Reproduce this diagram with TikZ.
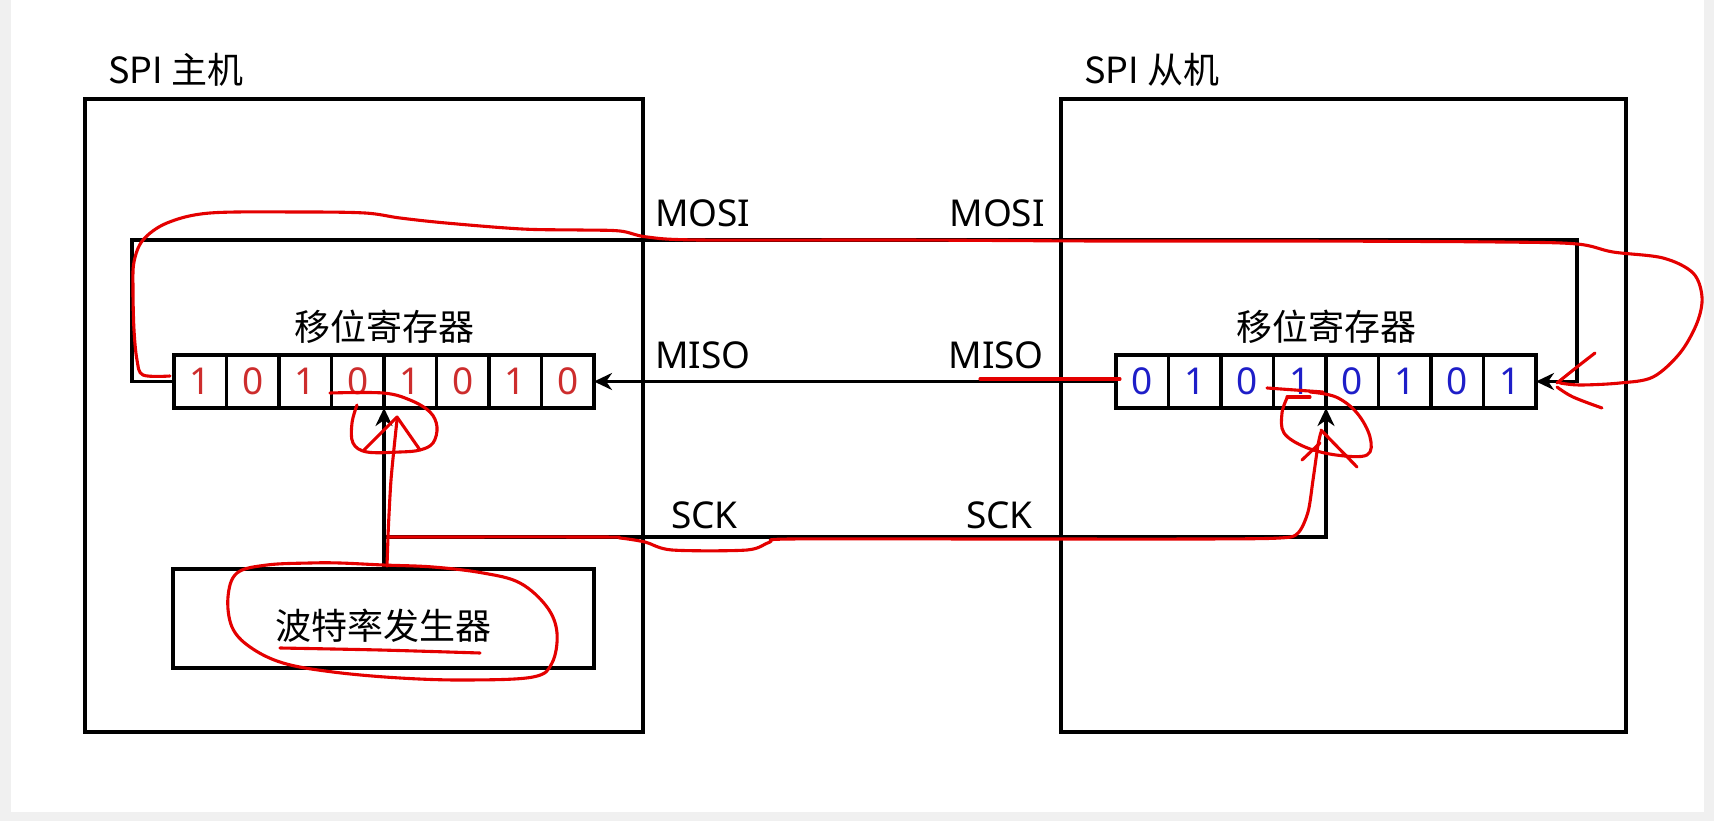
\documentclass[tikz,border=0pt]{standalone}
\usepackage{fontspec}
\setmainfont{Noto Sans}
\newfontfamily\cjk{Noto Sans CJK SC}
\usetikzlibrary{arrows.meta}
\definecolor{penred}{RGB}{228,0,0}
\definecolor{digred}{RGB}{205,45,45}
\definecolor{digblue}{RGB}{30,30,200}
\definecolor{bggray}{RGB}{240,240,240}
\begin{document}
\begin{tikzpicture}[x=1pt,y=-1pt,
  wire/.style={line width=3.4pt},
  frame/.style={draw, line width=3.6pt, inner sep=0pt, outer sep=0pt, anchor=north west},
  cell/.style={draw, line width=3.4pt, minimum width=52.5pt, minimum height=53pt, inner sep=0pt, outer sep=0pt, font=\fontsize{37}{37}\selectfont},
  mcell/.style={cell, text=digred},
  scell/.style={cell, text=digblue},
  sig/.style={font=\fontsize{37}{37}\selectfont, inner sep=0pt},
  cjklbl/.style={font=\cjk\fontsize{36}{36}\selectfont, inner sep=0pt},
  pen/.style={draw=penred, line width=3.1pt, line cap=round, line join=round},
  tip/.style={-{Stealth[length=18pt,width=17pt]}}
]
\useasboundingbox (0,0) rectangle (1714,821);
\fill[bggray] (0,0) rectangle (1714,821);
\fill[white] (11,0) rectangle (1704,812);

% outer boxes
\node[frame, minimum width=558pt, minimum height=633pt] (master) at (85,99) {};
\node[frame, minimum width=565pt, minimum height=633pt] (slave) at (1061,99) {};
\node[cjklbl, anchor=base west] (mT) at (108,84) {SPI 主机};
\node[cjklbl, anchor=base west] (sT) at (1084,84) {SPI 从机};

% shift registers
\foreach \b [count=\i] in {1,0,1,0,1,0,1,0}
  \node[mcell] (m\i) at ({200.25+52.5*(\i-1)},381.5) {\b};
\foreach \b [count=\i] in {0,1,0,1,0,1,0,1}
  \node[scell] (s\i) at ({1142.25+52.5*(\i-1)},381.5) {\b};
\node[cjklbl, anchor=base] (mRegT) at (384,340) {移位寄存器};
\node[cjklbl, anchor=base] (sRegT) at (1326,340) {移位寄存器};

% baud rate generator
\node[frame, minimum width=421pt, minimum height=99pt] (baud) at (173,569) {};
\node[cjklbl, anchor=base] (baudT) at (383.5,639) {波特率发生器};

% connectors
\coordinate (mosiL) at (132,240);
\coordinate (mosiR) at (1577,240);
\draw[wire, tip] (m1.west) -| (mosiL) -- (mosiR) |- (s8.east);
\draw[wire, tip] (s1.west) -- (m8.east);
\draw[wire, tip] (m4.south east |- baud.north) -- (m4.south east);
\path (m4.south east) ++(0,129) coordinate (sckJ);
\draw[wire, tip] (sckJ) -| (s4.south east);

% signal labels
\node[sig, anchor=base west] (mosiM) at (655,227) {MOSI};
\node[sig, anchor=base east] (mosiS) at (1045,227) {MOSI};
\node[sig, anchor=base west] (misoM) at (655,368) {MISO};
\node[sig, anchor=base east] (misoS) at (1044,368) {MISO};
\node[sig, anchor=base west] (sckM) at (671,528) {SCK};
\node[sig, anchor=base east] (sckS) at (1033,528) {SCK};

% red pen annotations
\draw[pen] plot[smooth, tension=0.55] coordinates {(170,376) (143,375) (137,360) (134,330) (133,290) (134,262) (143,240) (167,223) (210,213) (300,212) (365,213) (400,218) (446,223) (522,229) (580,230) (620,231) (647,237) (700,240) (900,240) (1100,241) (1300,241) (1500,242) (1577,244) (1613,252) (1663,258) (1693,273) (1702,297) (1697,323) (1680,353) (1653,377) (1620,383) (1580,385) (1560,383)};
\draw[pen] plot[smooth, tension=0.6] coordinates {(1595,353) (1577,367) (1557,383)};
\draw[pen] plot[smooth, tension=0.6] coordinates {(1557,387) (1573,397) (1602,408)};
\draw[pen] (980,379) -- (1120,379);
% master clock
\draw[pen] (387,566) -- (388,537);
\draw[pen] plot[smooth, tension=0.5] coordinates {(388,536) (391,480) (397,420)};
\draw[pen] (364,450) -- (397,417) -- (420,450);
\draw[pen] plot[smooth, tension=0.6] coordinates {(330,393) (383,393) (410,400) (430,412) (437,427) (433,443) (420,450) (400,452) (367,452) (353,443) (352,423) (357,405)};
% SCK line
\draw[pen] plot[smooth, tension=0.5] coordinates {(388,537) (600,537) (620,538) (645,542) (672,550) (747,550) (770,542) (790,539) (1000,539) (1200,539) (1280,538) (1298,533) (1308,512) (1313,480) (1318,445) (1321,432)};
% slave clock
\draw[pen] (1302,460) -- (1320,443);
\draw[pen] (1321,430) -- (1357,467);
\draw[pen] (1267,388) -- (1323,392);
\draw[pen] (1287,397) -- (1310,397);
\draw[pen] plot[smooth, tension=0.6] coordinates {(1287,398) (1282,413) (1284,433) (1305,447) (1336,455) (1367,455) (1370,437) (1357,413) (1336,397) (1310,392)};
% baud generator oval and underline
\draw[pen] plot[smooth cycle, tension=0.6] coordinates {(310,563) (267,565) (237,573) (228,597) (232,627) (250,647) (283,663) (333,672) (400,678) (467,680) (533,677) (552,663) (557,633) (547,607) (520,583) (483,573) (433,567) (383,565) (340,563)};
\draw[pen] plot[smooth, tension=0.5] coordinates {(280,648) (380,650) (480,653)};
\end{tikzpicture}
\end{document}
